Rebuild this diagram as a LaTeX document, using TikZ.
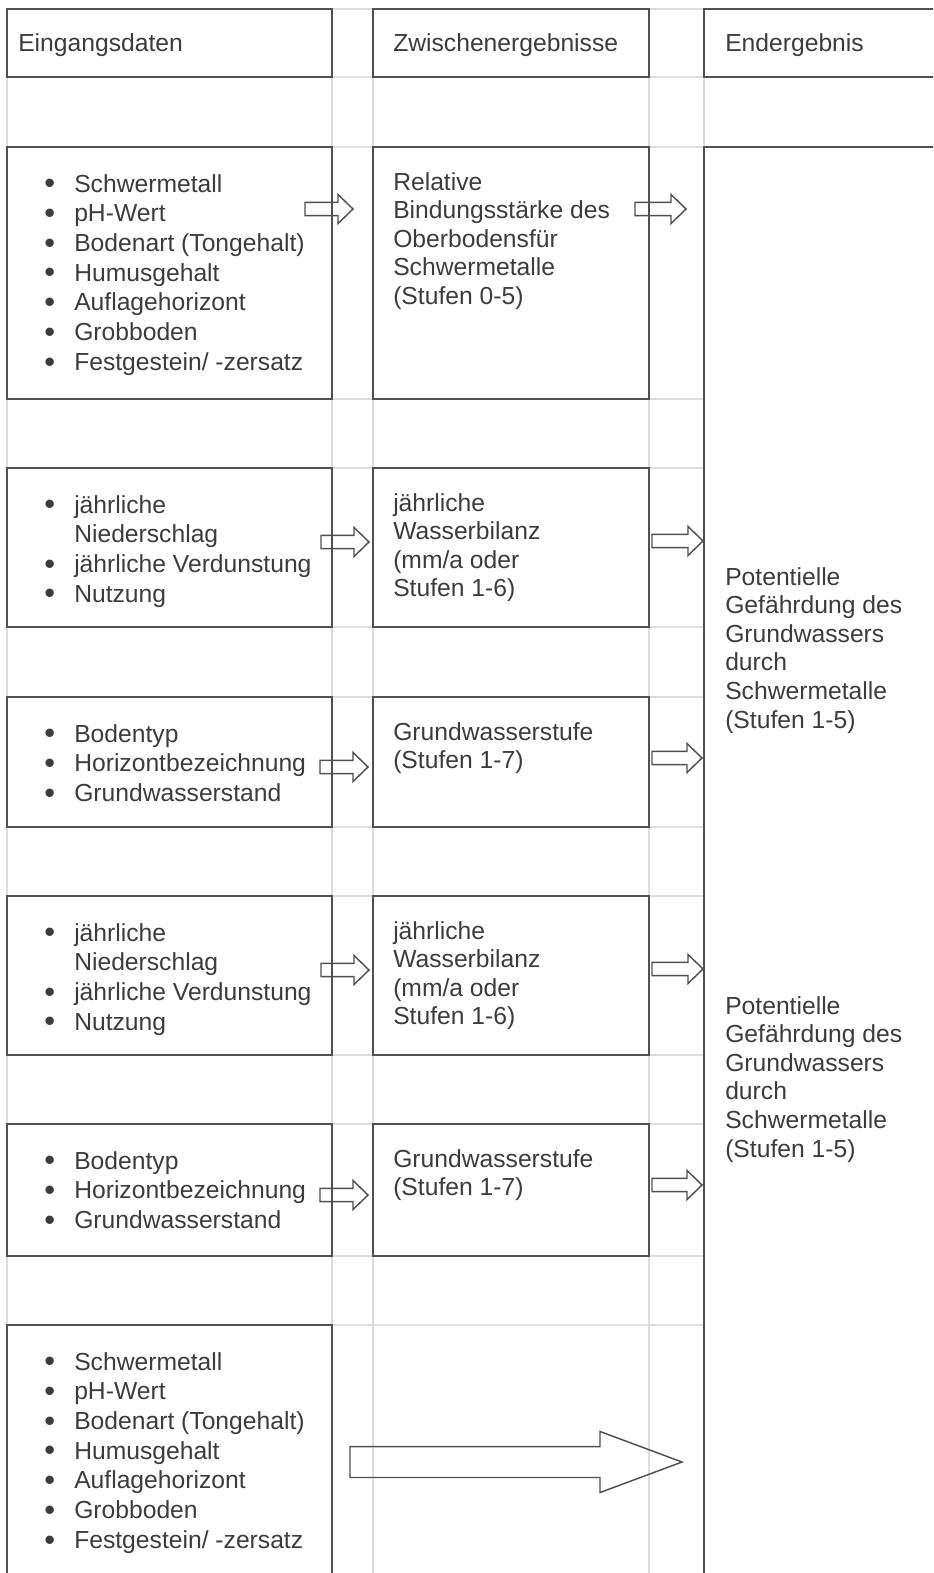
\documentclass[tikz,border=0pt]{standalone}
\usepackage{fontspec}
\setmainfont{Liberation Sans}
\usetikzlibrary{calc,fit}
\definecolor{boxline}{HTML}{505050}
\definecolor{gridline}{HTML}{DCDCDC}
\definecolor{txt}{HTML}{3C3C3C}

\tikzset{
  cell/.style={draw=boxline, line width=1.5pt, inner sep=0pt},
  grid line/.style={draw=gridline, line width=0.9pt},
  arrow line/.style={draw=boxline, line width=1.1pt, line join=miter},
  list text/.style={anchor=base west, inner sep=0pt, align=left, text=txt, font=\fontsize{18.5}{22.3}\selectfont},
  plain text/.style={list text, font=\fontsize{18.5}{21.45}\selectfont},
}
\newcommand{\itm}[1]{\makebox[22.5pt][l]{\raisebox{-0.07em}{\scalebox{1.25}{\textbullet}}}#1}
\newcommand{\cont}[1]{\hspace*{22.5pt}#1}
% block arrow: tail, tip, shaft half, head half, head length
\newcommand{\blockarrow}[5]{%
  \draw[arrow line] let \p1=(#1), \p2=(#2) in
    (\x1,\y1+#3) -- (\x2-#5,\y1+#3) -- (\x2-#5,\y1+#4) -- (\x2,\y1) --
    (\x2-#5,\y1-#4) -- (\x2-#5,\y1-#3) -- (\x1,\y1-#3) -- cycle;}

\begin{document}
\begin{tikzpicture}[x=0.75pt,y=0.75pt,yscale=-1,xscale=1]
\useasboundingbox (0,0) rectangle (933,1573);
\clip (0,0) rectangle (933,1573);

%Table grid
\foreach \gx in {7,332,373,649,704}
  \draw[grid line] (\gx,9) -- (\gx,1580);
\foreach \gy in {9,77,147,399,468,627,697,827,896,1055,1124,1256,1325}
  \draw[grid line] (7,\gy) -- (704,\gy);

%Flowchart: Process (headers)
\node[cell, fit={(7,9) (332,77)}] (head1) {};
\node[cell, fit={(373,9) (649,77)}] (head2) {};
\node[cell, fit={(704,9) (945,77)}] (head3) {};

%Flowchart: Process (Eingangsdaten)
\node[cell, fit={(7,147) (332,399)}] (in1) {};
\node[cell, fit={(7,468) (332,627)}] (in2) {};
\node[cell, fit={(7,697) (332,827)}] (in3) {};
\node[cell, fit={(7,896) (332,1055)}] (in4) {};
\node[cell, fit={(7,1124) (332,1256)}] (in5) {};
\node[cell, fit={(7,1325) (332,1590)}] (in6) {};

%Flowchart: Process (Zwischenergebnisse)
\node[cell, fit={(373,147) (649,399)}] (mid1) {};
\node[cell, fit={(373,468) (649,627)}] (mid2) {};
\node[cell, fit={(373,697) (649,827)}] (mid3) {};
\node[cell, fit={(373,896) (649,1055)}] (mid4) {};
\node[cell, fit={(373,1124) (649,1256)}] (mid5) {};

%Flowchart: Process (Endergebnis)
\node[cell, fit={(704,147) (945,1590)}] (end) {};

% Text Node (anchored at the baseline of the last line)
\draw (18,52) node [plain text] (head1txt) {Eingangsdaten};
% Text Node
\draw (393,52) node [plain text] (head2txt) {Zwischenergebnisse};
% Text Node
\draw (725,52) node [plain text] (head3txt) {Endergebnis};

% Text Node
\draw (44,370.4) node [list text] (in1txt) {\itm{Schwermetall}\\ \itm{pH-Wert}\\ \itm{Bodenart (Tongehalt)}\\ \itm{Humusgehalt}\\ \itm{Auflagehorizont}\\ \itm{Grobboden}\\ \itm{Festgestein/ -zersatz}};
% Text Node
\draw (44,602.2) node [list text] (in2txt) {\itm{jährliche}\\ \cont{Niederschlag}\\ \itm{jährliche Verdunstung}\\ \itm{Nutzung}};
% Text Node
\draw (44,801.5) node [list text] (in3txt) {\itm{Bodentyp}\\ \itm{Horizontbezeichnung}\\ \itm{Grundwasserstand}};
% Text Node
\draw (44,1030.2) node [list text] (in4txt) {\itm{jährliche}\\ \cont{Niederschlag}\\ \itm{jährliche Verdunstung}\\ \itm{Nutzung}};
% Text Node
\draw (44,1228.5) node [list text] (in5txt) {\itm{Bodentyp}\\ \itm{Horizontbezeichnung}\\ \itm{Grundwasserstand}};
% Text Node
\draw (44,1548.4) node [list text] (in6txt) {\itm{Schwermetall}\\ \itm{pH-Wert}\\ \itm{Bodenart (Tongehalt)}\\ \itm{Humusgehalt}\\ \itm{Auflagehorizont}\\ \itm{Grobboden}\\ \itm{Festgestein/ -zersatz}};

% Text Node
\draw (393,304.4) node [plain text] (mid1txt) {Relative\\ Bindungsstärke des\\ Oberbodensfür\\ Schwermetalle\\ (Stufen 0-5)};
% Text Node
\draw (393,596.8) node [plain text] (mid2txt) {jährliche\\ Wasserbilanz\\ (mm/a oder\\ Stufen 1-6)};
% Text Node
\draw (393,768.6) node [plain text] (mid3txt) {Grundwasserstufe\\ (Stufen 1-7)};
% Text Node
\draw (393,1024.8) node [plain text] (mid4txt) {jährliche\\ Wasserbilanz\\ (mm/a oder\\ Stufen 1-6)};
% Text Node
\draw (393,1195.6) node [plain text] (mid5txt) {Grundwasserstufe\\ (Stufen 1-7)};

% Text Node
\draw (725,728) node [plain text] (end1txt) {Potentielle\\ Gefährdung des\\ Grundwassers\\ durch\\ Schwermetalle\\ (Stufen 1-5)};
% Text Node
\draw (725,1157) node [plain text] (end2txt) {Potentielle\\ Gefährdung des\\ Grundwassers\\ durch\\ Schwermetalle\\ (Stufen 1-5)};

%Right Arrow ends
\coordinate (a1s) at (305,209);  \coordinate (a1t) at (353,209);
\coordinate (b1s) at (635,209);  \coordinate (b1t) at (686,209);
\coordinate (a2s) at (321,542);  \coordinate (a2t) at (369,542);
\coordinate (b2s) at (652,541);  \coordinate (b2t) at (703,541);
\coordinate (a3s) at (320,767);  \coordinate (a3t) at (368,767);
\coordinate (b3s) at (652,758);  \coordinate (b3t) at (702,758);
\coordinate (a4s) at (321,970);  \coordinate (a4t) at (369,970);
\coordinate (b4s) at (652,969);  \coordinate (b4t) at (703,969);
\coordinate (a5s) at (320,1195); \coordinate (a5t) at (368,1195);
\coordinate (b5s) at (652,1185); \coordinate (b5t) at (702,1185);
\coordinate (c6s) at (350,1462); \coordinate (c6t) at (682,1462);

%Right Arrow
\foreach \r in {a1,b1,a2,b2,a3,b3,a4,b4,a5,b5}{
  \blockarrow{\r s}{\r t}{4.9pt}{10.9pt}{11.25pt}
}
%Right Arrow (large)
\blockarrow{c6s}{c6t}{11.6pt}{22.9pt}{61.5pt}

\end{tikzpicture}
\end{document}
